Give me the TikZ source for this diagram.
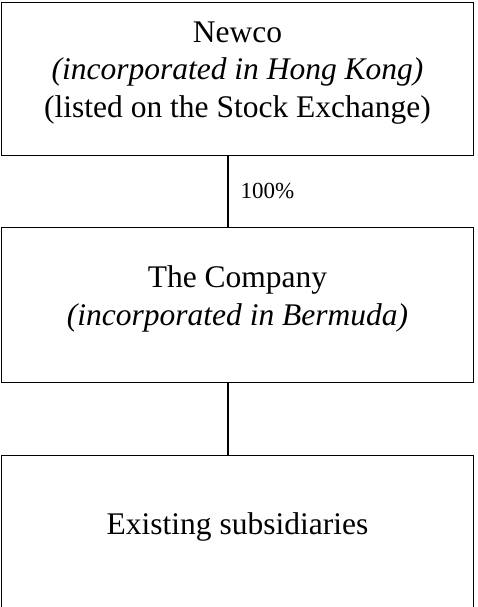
\documentclass[tikz,border=0pt]{standalone}
\usepackage{fontspec}
\setmainfont{Liberation Serif}
\usetikzlibrary{positioning}
\begin{document}
\begin{tikzpicture}[x=1pt,y=1pt,
    box/.style={draw,line width=1.2pt,rectangle,minimum width=472pt,minimum height=155.5pt,
      align=center,font=\fontsize{31.5}{37.5}\selectfont,text depth=19pt},
    link/.style={line width=1.2pt}]
  \useasboundingbox (0,0) rectangle (477,-607);
  \node[box,minimum height=153pt] (newco) at (237.5,-79)
    {Newco\\ \textit{(incorporated in Hong Kong)}\\ (listed on the Stock Exchange)};
  \node[box,below=70.5pt of newco] (company) {The Company\\ \textit{(incorporated in Bermuda)}};
  \node[box,below=71.5pt of company] (subs) {Existing subsidiaries};
  \draw[link] ([xshift=-9.5pt]newco.south) --
    node (share) [right=12pt,inner sep=0pt,font=\fontsize{23}{27}\selectfont] {100\%}
    ([xshift=-9.5pt]company.north);
  \draw[link] ([xshift=-9.5pt]company.south) -- ([xshift=-9.5pt]subs.north);
\end{tikzpicture}
\end{document}
